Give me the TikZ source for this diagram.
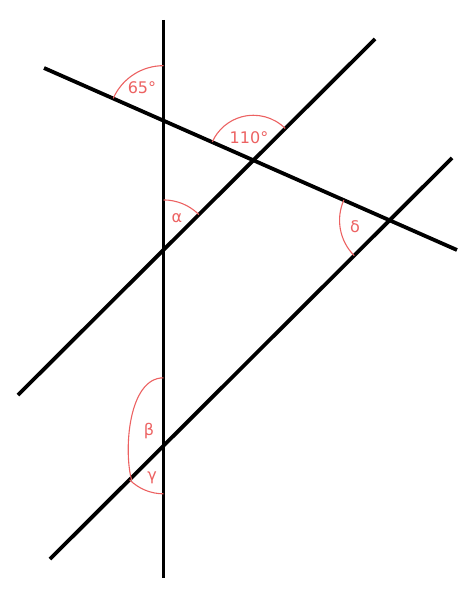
\documentclass[tikz,border=0pt]{standalone}
\usepackage{fontspec}
\setmainfont{DejaVu Sans}
\usepackage{tikz}

\definecolor{angred}{RGB}{236,98,98}

\begin{document}
\begin{tikzpicture}[x=1pt, y=1pt,
        line/.style = {draw, line width=3.8pt},
        angmark/.style = {draw=angred, line width=1.1pt},
        anglabel/.style = {text=angred, font=\fontsize{16}{18}\selectfont, inner sep=0pt}]
                \useasboundingbox (0, 0) rectangle (471, -599);

                % end points of the four lines
                \coordinate (V1) at (163.5, -20);
                \coordinate (V2) at (163.5, -578);
                \coordinate (T1) at (44, -68);
                \coordinate (T2) at (457, -250);
                \coordinate (A1) at (18, -395);
                \coordinate (A2) at (375, -39);
                \coordinate (B1) at (50, -559);
                \coordinate (B2) at (452, -158);

                % crossing points
                \coordinate (X1) at (intersection of V1--V2 and T1--T2);
                \coordinate (X2) at (intersection of T1--T2 and A1--A2);
                \coordinate (X3) at (intersection of V1--V2 and A1--A2);
                \coordinate (X4) at (intersection of T1--T2 and B1--B2);
                \coordinate (X5) at (intersection of V1--V2 and B1--B2);

                \draw[line] (V1) -- (V2);
                \draw[line] (T1) -- (T2);
                \draw[line] (A1) -- (A2);
                \draw[line] (B1) -- (B2);

                % angle marks
                \draw[angmark] (X1) ++(90:55) arc[start angle=90, end angle=156, radius=55];
                \draw[angmark] (X2) ++(45:45) arc[start angle=45, end angle=156, radius=45];
                \draw[angmark] (X3) ++(45:50) arc[start angle=45, end angle=90, radius=50];
                \draw[angmark] (X4) ++(156:50) arc[start angle=156, end angle=225, radius=50];
                \draw[angmark] (X5) ++(90:68) .. controls +(-35, 0) and +(-8, 30) .. ++(-32, -102);
                \draw[angmark] (X5) ++(225:48) arc[start angle=225, end angle=270, radius=48];

                \node[anglabel] at (142, -88) (L65) {65°};
                \node[anglabel] at (249, -138) (L110) {110°};
                \node[anglabel] at (177, -218) (Lalpha) {α};
                \node[anglabel] at (355, -227) (Ldelta) {δ};
                \node[anglabel] at (149, -431) (Lbeta) {β};
                \node[anglabel] at (152, -478) (Lgamma) {γ};
            \end{tikzpicture}
\end{document}
